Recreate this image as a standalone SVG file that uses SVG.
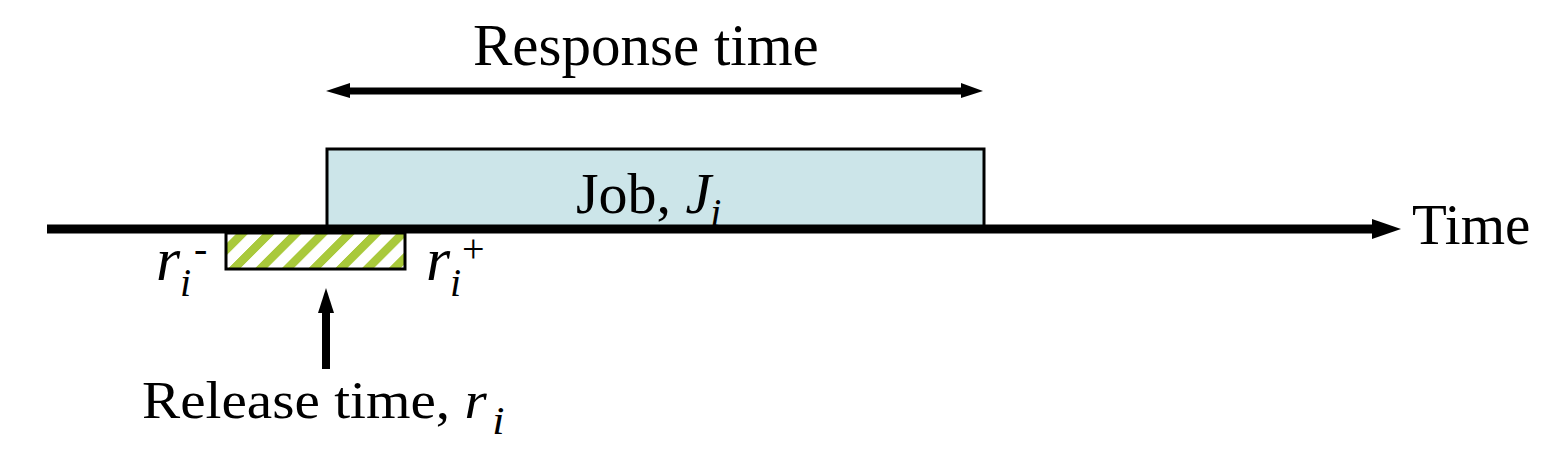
<svg xmlns="http://www.w3.org/2000/svg" width="1566" height="460" viewBox="0 0 1566 460">
<style>
text{font-family:"Liberation Serif","Times New Roman",serif;fill:#000}
.it{font-style:italic}
</style>
<defs>
<pattern id="hatch" patternUnits="userSpaceOnUse" x="16" y="0" width="26.7" height="20" patternTransform="skewX(-45)">
<rect x="0" y="0" width="12" height="20" fill="#a9c93b"/>
</pattern>
</defs>
<rect width="1566" height="460" fill="#fff"/>
<g id="job">
<rect x="327" y="149" width="657" height="78" fill="#cce5e9" stroke="#000" stroke-width="3"/>
<text x="576" y="213" font-size="58">Job, <tspan class="it">J</tspan><tspan class="it" font-size="40" dx="-1" dy="13">i</tspan></text>
</g>
<g id="release-window">
<rect x="226" y="233" width="179" height="36" fill="url(#hatch)" stroke="#000" stroke-width="3"/>
</g>
<g id="connectors">
<line x1="47" y1="229" x2="1376" y2="229" stroke="#000" stroke-width="9"/>
<polygon points="1372,219 1401,229 1372,239" fill="#000"/>
<line x1="348" y1="91" x2="963" y2="91" stroke="#000" stroke-width="7"/>
<polygon points="350,83 326,91 350,98" fill="#000"/>
<polygon points="961,83 983,91 961,98" fill="#000"/>
<line x1="326" y1="369" x2="326" y2="308" stroke="#000" stroke-width="8"/>
<polygon points="318,313 326,288 334,313" fill="#000"/>
</g>
<g id="labels">
<text x="473" y="65" font-size="59">Response time</text>
<text x="1412" y="244" font-size="57">Time</text>
<text class="it" x="156" y="280" font-size="62">r</text>
<text class="it" x="180" y="296" font-size="40">i</text>
<text x="194" y="262" font-size="40">-</text>
<text class="it" x="426" y="280" font-size="62">r</text>
<text class="it" x="450" y="296" font-size="40">i</text>
<text x="462" y="262" font-size="40">+</text>
<text transform="translate(142,418) scale(1.1,1)" font-size="52">Release time, <tspan class="it">r</tspan><tspan class="it" font-size="40" dx="5" dy="16">i</tspan></text>
</g>
</svg>
